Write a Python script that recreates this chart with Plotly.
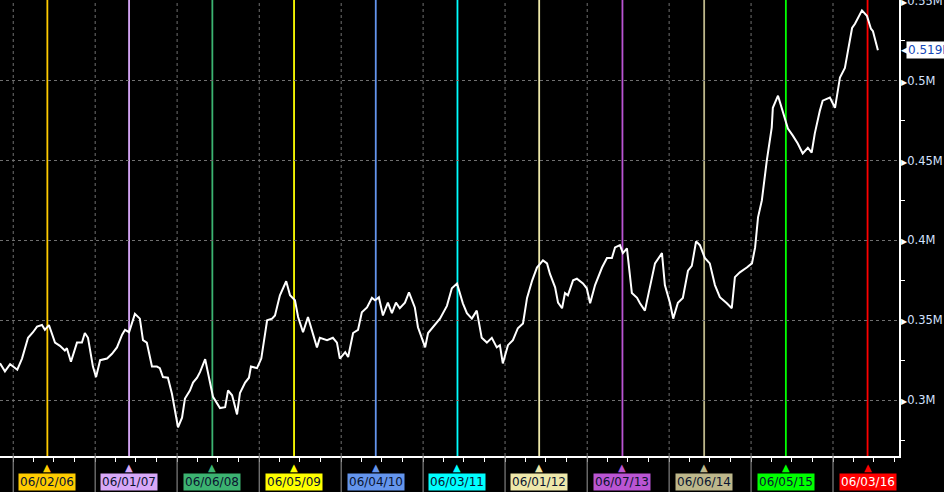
import plotly.graph_objects as go

# value series (millions)
dates = [
    "2005-11-03", "2005-11-25", "2005-12-18", "2006-01-01", "2006-01-19", "2006-02-09",
    "2006-03-03", "2006-03-08", "2006-03-30", "2006-04-17", "2006-05-09", "2006-05-22",
    "2006-06-09", "2006-07-06", "2006-07-28", "2006-08-19", "2006-08-28", "2006-09-15",
    "2006-10-12", "2006-11-03", "2006-11-16", "2006-11-30", "2006-12-22",
    "2007-01-05", "2007-01-23", "2007-02-23", "2007-03-17", "2007-04-08", "2007-05-01",
    "2007-05-14", "2007-06-01", "2007-06-14", "2007-06-27", "2007-07-19", "2007-08-02",
    "2007-08-19", "2007-09-11", "2007-10-03", "2007-10-16", "2007-10-30", "2007-11-21",
    "2007-12-09", "2007-12-22",
    "2008-01-05", "2008-01-23", "2008-02-05", "2008-02-27", "2008-03-12", "2008-03-30",
    "2008-04-12", "2008-05-05", "2008-05-18", "2008-06-09", "2008-07-10", "2008-08-02",
    "2008-08-15", "2008-09-02", "2008-09-24", "2008-10-07", "2008-10-30", "2008-11-16",
    "2008-11-25", "2008-12-22",
    "2009-01-10", "2009-02-05", "2009-02-27", "2009-03-12", "2009-04-03", "2009-05-01",
    "2009-05-18", "2009-06-09", "2009-06-23", "2009-07-15", "2009-08-06", "2009-08-24",
    "2009-09-15", "2009-09-28", "2009-10-30", "2009-11-25", "2009-12-13", "2009-12-26",
    "2010-01-19", "2010-02-01", "2010-02-23", "2010-03-17", "2010-04-03", "2010-04-26",
    "2010-05-18", "2010-06-01", "2010-06-18", "2010-07-06", "2010-07-28", "2010-08-15",
    "2010-09-02", "2010-09-19", "2010-10-12", "2010-10-30", "2010-11-25", "2010-12-09",
    "2011-01-10", "2011-01-23", "2011-02-23", "2011-03-17", "2011-04-17", "2011-05-09",
    "2011-06-01", "2011-06-14", "2011-06-27", "2011-07-15", "2011-08-06", "2011-08-28",
    "2011-09-19", "2011-10-12", "2011-11-03", "2011-11-25", "2011-12-09", "2011-12-22",
    "2012-01-14", "2012-02-05", "2012-02-27", "2012-03-21", "2012-04-08", "2012-05-01",
    "2012-05-22", "2012-06-18", "2012-07-06", "2012-07-19", "2012-08-11", "2012-08-24",
    "2012-09-11", "2012-09-24", "2012-10-07", "2012-10-30", "2012-11-16", "2012-12-13",
    "2012-12-30",
    "2013-01-14", "2013-02-05", "2013-03-08", "2013-03-30", "2013-04-21", "2013-05-05",
    "2013-05-27", "2013-06-09", "2013-06-27", "2013-07-19", "2013-08-11", "2013-08-24",
    "2013-09-15", "2013-10-07", "2013-10-30", "2013-11-30", "2013-12-13",
    "2014-01-05", "2014-01-19", "2014-02-09", "2014-03-03", "2014-03-26", "2014-04-12",
    "2014-05-01", "2014-05-18", "2014-06-09", "2014-07-01", "2014-07-24", "2014-08-15",
    "2014-09-15", "2014-10-07", "2014-10-21", "2014-11-12", "2014-12-13",
    "2015-01-05", "2015-01-19", "2015-02-01", "2015-02-18", "2015-03-12", "2015-04-03",
    "2015-04-08", "2015-05-01", "2015-05-22", "2015-06-14", "2015-07-06", "2015-07-28",
    "2015-08-19", "2015-09-11", "2015-09-28", "2015-10-12", "2015-11-03", "2015-11-16",
    "2015-12-18",
    "2016-01-10", "2016-02-01", "2016-02-23", "2016-03-08", "2016-03-26", "2016-04-08",
    "2016-04-21", "2016-05-09", "2016-05-31", "2016-06-18", "2016-06-27", "2016-07-19",
]
values = [
    0.323, 0.318, 0.3225, 0.321, 0.319, 0.326,
    0.336, 0.339, 0.3425, 0.346, 0.347, 0.344,
    0.347, 0.336, 0.334, 0.331, 0.3325, 0.324,
    0.336, 0.336, 0.342, 0.339, 0.321,
    0.3144, 0.325, 0.326, 0.329, 0.333, 0.341,
    0.344, 0.3425, 0.349, 0.354, 0.351, 0.3375,
    0.336, 0.321, 0.321, 0.32, 0.3144, 0.314,
    0.304, 0.295,
    0.283, 0.289, 0.301, 0.306, 0.311, 0.314,
    0.3175, 0.3256, 0.3175, 0.302, 0.295, 0.2956,
    0.306, 0.303, 0.291, 0.3044, 0.311, 0.314,
    0.321, 0.32,
    0.326, 0.35, 0.351, 0.353, 0.3656, 0.3744,
    0.3656, 0.3625, 0.352, 0.3425, 0.352, 0.344,
    0.333, 0.339, 0.3375, 0.339, 0.336, 0.326,
    0.33, 0.327, 0.342, 0.344, 0.355, 0.358,
    0.364, 0.3625, 0.3644, 0.353, 0.361, 0.3544,
    0.361, 0.3575, 0.361, 0.3675, 0.358, 0.3456,
    0.333, 0.342, 0.347, 0.351, 0.359, 0.37,
    0.373, 0.3669, 0.3606, 0.3544, 0.351, 0.356,
    0.339, 0.336, 0.339, 0.333, 0.3344, 0.323,
    0.3344, 0.3375, 0.345, 0.348, 0.364, 0.375,
    0.383, 0.3875, 0.3856, 0.379, 0.3706, 0.361,
    0.3575, 0.367, 0.3656, 0.375, 0.376, 0.373,
    0.37,
    0.3606, 0.372, 0.383, 0.389, 0.389, 0.3956,
    0.397, 0.392, 0.395, 0.367, 0.364, 0.3606,
    0.356, 0.3706, 0.3856, 0.392, 0.372,
    0.3606, 0.351, 0.361, 0.364, 0.381, 0.384,
    0.3994, 0.397, 0.389, 0.3856, 0.372, 0.3644,
    0.3606, 0.3575, 0.377, 0.38, 0.383,
    0.3856, 0.3956, 0.4144, 0.425, 0.45, 0.4706,
    0.483, 0.4906, 0.481, 0.47, 0.4656, 0.4606,
    0.4544, 0.458, 0.455, 0.467, 0.481, 0.4875,
    0.4894,
    0.483, 0.502, 0.508, 0.519, 0.533, 0.5356,
    0.539, 0.544, 0.5406, 0.5325, 0.531, 0.519,
]

# event markers
event_dates = ["2006-06-02", "2007-06-01", "2008-06-06", "2009-06-05", "2010-06-04",
               "2011-06-03", "2012-06-01", "2013-06-07", "2014-06-06", "2015-06-05",
               "2016-06-03"]
event_labels = ["06/02/06", "06/01/07", "06/06/08", "06/05/09", "06/04/10", "06/03/11",
                "06/01/12", "06/07/13", "06/06/14", "06/05/15", "06/03/16"]
event_colors = ["#FFCC00", "#D8A8F8", "#3CB371", "#FFFF00", "#6495ED", "#00FFFF",
                "#EEE8AA", "#BA55D3", "#BDB78B", "#00FF00", "#FF0000"]

year_starts = ["2006-01-01", "2007-01-01", "2008-01-01", "2009-01-01", "2010-01-01",
               "2011-01-01", "2012-01-01", "2013-01-01", "2014-01-01", "2015-01-01",
               "2016-01-01"]

y_ticks = [0.3, 0.35, 0.4, 0.45, 0.5, 0.55]
y_tick_text = ["0.3M", "0.35M", "0.4M", "0.45M", "0.5M", "0.55M"]
y_minor = [0.275, 0.325, 0.375, 0.425, 0.475, 0.525]

FONT = "DejaVu Sans, Verdana, sans-serif"

fig = go.Figure()

fig.add_trace(go.Scatter(
    x=dates, y=values,
    mode="lines",
    line=dict(color="white", width=2),
    showlegend=False,
    hoverinfo="skip",
))

# year separators: dashed inside the plot, solid grey below the axis
for d in year_starts:
    fig.add_shape(type="line", x0=d, x1=d, xref="x", y0=0, y1=1, yref="paper",
                  line=dict(color="#707070", width=1, dash="3px,3px"), layer="below")
    fig.add_shape(type="line", x0=d, x1=d, xref="x", y0=0, y1=-36 / 456, yref="paper",
                  line=dict(color="#808080", width=1.2))

# vertical event lines + labels under the axis
for d, lab, col in zip(event_dates, event_labels, event_colors):
    fig.add_shape(type="line", x0=d, x1=d, xref="x", y0=0, y1=1, yref="paper",
                  line=dict(color=col, width=1.8), layer="below")
    fig.add_annotation(x=d, y=0, xref="x", yref="paper", yanchor="middle",
                       yshift=-11, text="▲", showarrow=False,
                       font=dict(color=col, size=10, family=FONT))
    fig.add_annotation(x=d, y=0, xref="x", yref="paper", yanchor="middle",
                       yshift=-26, text=lab, showarrow=False, bgcolor=col,
                       borderpad=1,
                       font=dict(color="white" if col == "#FF0000" else "#0a1430",
                                 size=12, family=FONT))

# last value tag
fig.add_annotation(x=1, y=values[-1], xref="paper", yref="y", xanchor="left",
                   xshift=7, text=f"{values[-1]:.3f}M", showarrow=False,
                   bgcolor="white", borderpad=1,
                   font=dict(color="#1448b8", size=12, family=FONT))
fig.add_annotation(x=1, y=values[-1], xref="paper", yref="y", xanchor="left",
                   xshift=0, text="◀", showarrow=False,
                   font=dict(color="white", size=9, family=FONT))

fig.update_xaxes(
    type="date",
    range=["2005-11-03", "2016-10-21"],
    tickmode="linear", tick0="2006-01-01", dtick="M3",
    showticklabels=False,
    ticks="outside", ticklen=4, tickcolor="white", tickwidth=1,
    showgrid=False,
    showline=True, linecolor="white", linewidth=1.5,
    zeroline=False, automargin=False,
)

fig.update_yaxes(
    side="right",
    range=[0.265, 0.5505],
    tickmode="array", tickvals=y_ticks,
    ticktext=["<span style='color:white;font-size:8px'>▶</span>" + t for t in y_tick_text],
    ticks="", ticklabelstandoff=-2, ticklabeloverflow="allow",
    tickfont=dict(color="#D4E2FF", size=11.5, family=FONT),
    showgrid=True, gridcolor="#707070", griddash="3px,3px", gridwidth=1,
    showline=True, linecolor="white", linewidth=1.5,
    minor=dict(tickvals=y_minor, ticks="outside",
               ticklen=4, tickcolor="white", showgrid=False),
    zeroline=False, automargin=False,
)

fig.update_layout(
    width=944, height=492,
    margin=dict(l=0, r=45, t=0, b=36),
    paper_bgcolor="black",
    plot_bgcolor="black",
    showlegend=False,
)

fig.write_html(
    "out.html",
    config={"displayModeBar": False},
    post_script="document.body.style.margin='0';document.body.style.background='black';",
)
